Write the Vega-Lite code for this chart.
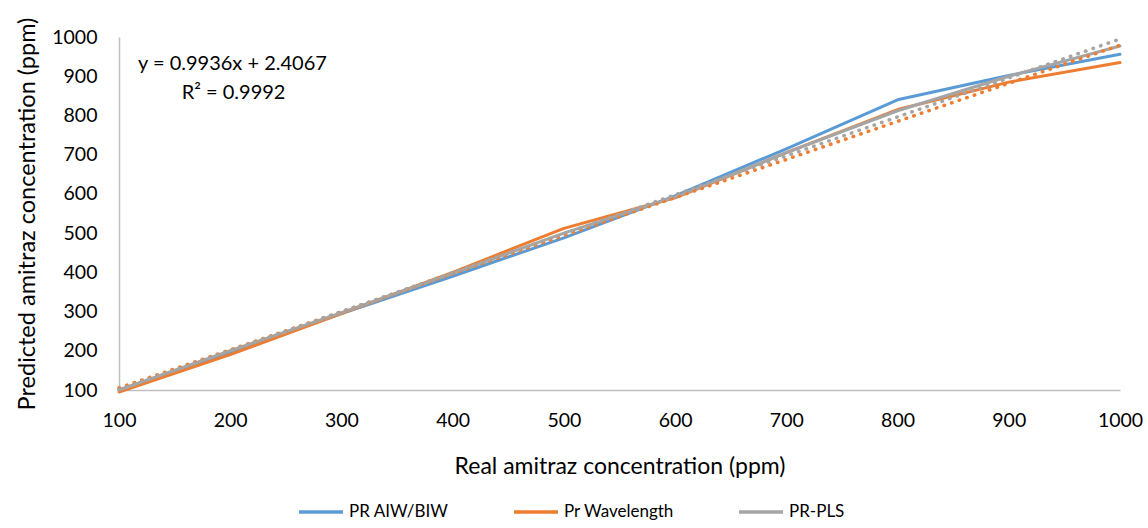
{
  "$schema": "https://vega.github.io/schema/vega-lite/v6.json",
  "width": 1001,
  "height": 353,
  "autosize": {"type": "none"},
  "padding": {"left": 119, "top": 37, "right": 28, "bottom": 138},
  "background": "white",
  "config": {
    "view": {"stroke": null},
    "font": "Lato",
    "axis": {
      "grid": false,
      "ticks": false,
      "domainColor": "#BFBFBF",
      "domainWidth": 1.5,
      "labelColor": "#000000",
      "labelFontSize": 19.5,
      "labelFlush": false,
      "titleColor": "#000000",
      "titleFontWeight": "normal"
    }
  },
  "data": {
    "values": [
      {"series": "PR AIW/BIW", "real": 100, "predicted": 100},
      {"series": "PR AIW/BIW", "real": 200, "predicted": 195},
      {"series": "PR AIW/BIW", "real": 300, "predicted": 295},
      {"series": "PR AIW/BIW", "real": 400, "predicted": 390},
      {"series": "PR AIW/BIW", "real": 500, "predicted": 488},
      {"series": "PR AIW/BIW", "real": 600, "predicted": 595},
      {"series": "PR AIW/BIW", "real": 700, "predicted": 715},
      {"series": "PR AIW/BIW", "real": 800, "predicted": 840},
      {"series": "PR AIW/BIW", "real": 900, "predicted": 902},
      {"series": "PR AIW/BIW", "real": 1000, "predicted": 956},
      {"series": "Pr Wavelength", "real": 100, "predicted": 95},
      {"series": "Pr Wavelength", "real": 200, "predicted": 190},
      {"series": "Pr Wavelength", "real": 300, "predicted": 295},
      {"series": "Pr Wavelength", "real": 400, "predicted": 400},
      {"series": "Pr Wavelength", "real": 500, "predicted": 512},
      {"series": "Pr Wavelength", "real": 600, "predicted": 590},
      {"series": "Pr Wavelength", "real": 700, "predicted": 705},
      {"series": "Pr Wavelength", "real": 800, "predicted": 815},
      {"series": "Pr Wavelength", "real": 900, "predicted": 885},
      {"series": "Pr Wavelength", "real": 1000, "predicted": 935},
      {"series": "PR-PLS", "real": 100, "predicted": 100},
      {"series": "PR-PLS", "real": 200, "predicted": 200},
      {"series": "PR-PLS", "real": 300, "predicted": 297},
      {"series": "PR-PLS", "real": 400, "predicted": 397},
      {"series": "PR-PLS", "real": 500, "predicted": 500},
      {"series": "PR-PLS", "real": 600, "predicted": 592},
      {"series": "PR-PLS", "real": 700, "predicted": 705},
      {"series": "PR-PLS", "real": 800, "predicted": 812},
      {"series": "PR-PLS", "real": 900, "predicted": 900},
      {"series": "PR-PLS", "real": 1000, "predicted": 977}
    ]
  },
  "encoding": {
    "x": {
      "field": "real",
      "type": "quantitative",
      "scale": {"domain": [100, 1000], "nice": false, "zero": false},
      "axis": {
        "title": "Real amitraz concentration (ppm)",
        "format": "d",
        "values": [100, 200, 300, 400, 500, 600, 700, 800, 900, 1000],
        "labelPadding": 21,
        "titleFontSize": 23,
        "titlePadding": 26
      }
    },
    "y": {
      "field": "predicted",
      "type": "quantitative",
      "scale": {"domain": [100, 1000], "nice": false, "zero": false},
      "axis": {
        "title": "Predicted amitraz concentration (ppm)",
        "format": "d",
        "values": [100, 200, 300, 400, 500, 600, 700, 800, 900, 1000],
        "labelPadding": 22,
        "titleFontSize": 23.5,
        "titlePadding": 12
      }
    },
    "color": {
      "field": "series",
      "type": "nominal",
      "scale": {
        "domain": ["PR AIW/BIW", "Pr Wavelength", "PR-PLS"],
        "range": ["#5B9BD5", "#ED7D31", "#A5A5A5"]
      },
      "legend": {
        "title": null,
        "orient": "none",
        "legendX": 178,
        "legendY": 451,
        "direction": "horizontal",
        "symbolType": "stroke",
        "symbolSize": 1936,
        "symbolStrokeWidth": 3.5,
        "labelFontSize": 17,
        "labelColor": "#000000",
        "labelOffset": 4,
        "columnPadding": 58
      }
    }
  },
  "layer": [
    {
      "mark": {"type": "line", "strokeWidth": 3, "strokeCap": "round", "strokeJoin": "round"}
    },
    {
      "transform": [
        {"filter": "datum.series != 'PR AIW/BIW'"},
        {"regression": "predicted", "on": "real", "groupby": ["series"]}
      ],
      "mark": {"type": "line", "strokeWidth": 3.5, "strokeCap": "round", "strokeDash": [0.5, 7.5]}
    },
    {
      "transform": [
        {"filter": "datum.series == 'PR-PLS' && datum.real == 100"}
      ],
      "mark": {"type": "text", "fontSize": 20, "font": "Lato"},
      "encoding": {
        "x": {"datum": 202},
        "y": {"datum": 932},
        "text": {"value": "y = 0.9936x + 2.4067"},
        "color": {"value": "#000000"}
      }
    },
    {
      "transform": [
        {"filter": "datum.series == 'PR-PLS' && datum.real == 100"}
      ],
      "mark": {"type": "text", "fontSize": 20, "font": "Lato"},
      "encoding": {
        "x": {"datum": 203},
        "y": {"datum": 857},
        "text": {"value": "R² = 0.9992"},
        "color": {"value": "#000000"}
      }
    }
  ]
}
